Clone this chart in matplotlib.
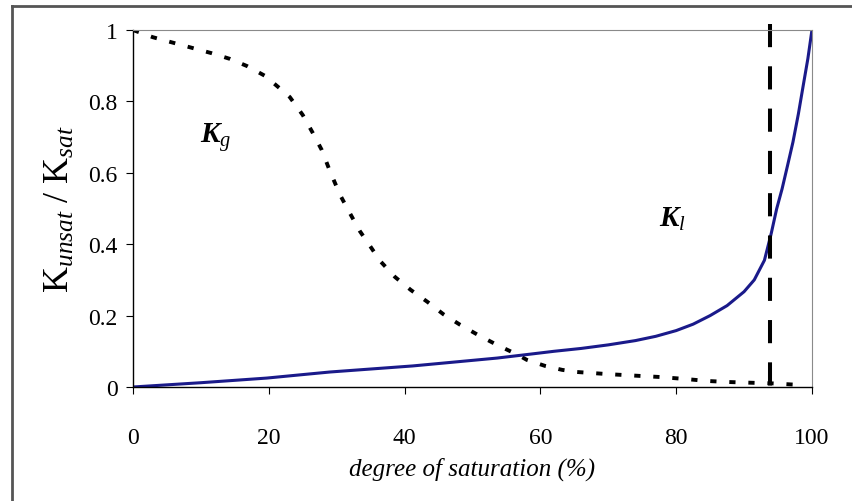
import matplotlib.pyplot as plt
from matplotlib.lines import Line2D

plt.rcParams['font.family'] = ['Liberation Serif', 'DejaVu Serif']
plt.rcParams['mathtext.fontset'] = 'custom'
plt.rcParams['mathtext.rm'] = 'Liberation Serif'
plt.rcParams['mathtext.it'] = 'Liberation Serif:italic'
plt.rcParams['mathtext.bf'] = 'Liberation Serif:italic:bold'

# gas relative permeability (dotted)
kg_x = [0, 2.9, 5.6, 8.7, 11.6, 14.3, 16.8, 19.4, 22.1, 23.1, 25.0, 26.5, 27.8, 29.0,
        30.5, 32.0, 33.4, 35.2, 36.4, 38.6, 40.9, 43.4, 45.7, 48.2, 50.8, 53.6, 56.7,
        58.0, 60.7, 63.2, 65.4, 70.0, 74.7, 77.6, 81.6, 84.5, 87.6, 90.9, 94.3, 98.0]
kg_y = [1.0, 0.98, 0.966, 0.95, 0.935, 0.919, 0.899, 0.872, 0.829, 0.812, 0.762, 0.711,
        0.664, 0.605, 0.538, 0.485, 0.437, 0.387, 0.353, 0.308, 0.272, 0.238, 0.204,
        0.174, 0.146, 0.118, 0.090, 0.076, 0.059, 0.048, 0.042, 0.036, 0.031, 0.028,
        0.022, 0.017, 0.014, 0.012, 0.010, 0.006]

# liquid relative permeability (solid blue)
kl_x = [0, 10, 19.7, 24.6, 29.0, 41.2, 53.6, 58.5, 62, 66, 70, 74, 77, 80, 82.5, 85,
        87.5, 90, 91.5, 93, 94, 94.8, 95.6, 96.4, 97.2, 98, 98.7, 99.4, 100]
kl_y = [0, 0.012, 0.025, 0.034, 0.042, 0.059, 0.081, 0.092, 0.100, 0.108, 0.118, 0.130,
        0.142, 0.158, 0.176, 0.200, 0.228, 0.267, 0.300, 0.355, 0.430, 0.499, 0.555,
        0.620, 0.686, 0.765, 0.843, 0.920, 1.0]

sat_limit = 93.8
limit_y = [1.017, 0]

x_ticks = [0, 20, 40, 60, 80, 100]
y_ticks = [0, 0.2, 0.4, 0.6, 0.8, 1]
y_ticklabels = ['0', '0.2', '0.4', '0.6', '0.8', '1']

fig = plt.figure(figsize=(8.52, 5.02), dpi=100)
ax = fig.add_axes([0.1561, 0.2271, 0.7969, 0.7111])

ax.plot(kg_x, kg_y, color='black', lw=2.8, dashes=(1.6, 3.3))
ax.plot(kl_x, kl_y, color='#1a1a8a', lw=2.2)
ax.plot([sat_limit, sat_limit], limit_y, color='black', lw=2.9, dashes=(5.75, 4.75),
        clip_on=False)

ax.set_xlim(0, 100)
ax.set_ylim(0, 1)
ax.set_xticks(x_ticks)
ax.set_yticks(y_ticks)
ax.set_yticklabels(y_ticklabels)
ax.tick_params(axis='both', labelsize=17, direction='out', length=5, width=0.8)
ax.tick_params(axis='x', pad=24)
ax.tick_params(axis='y', pad=6)

for s in ['top', 'right']:
    ax.spines[s].set_color('#8a8a8a')
    ax.spines[s].set_linewidth(0.8)
for s in ['left', 'bottom']:
    ax.spines[s].set_color('black')
    ax.spines[s].set_linewidth(1.0)

ax.set_xlabel('degree of saturation (%)', fontsize=18, style='italic', labelpad=6)
ax.set_ylabel(r'$\mathrm{K}_{unsat}\ /\ \mathrm{K}_{sat}$', fontsize=26, labelpad=8)

ax.text(9.9, 0.686, r'$\mathbf{K}_{g}$', fontsize=21, va='baseline')
ax.text(77.5, 0.451, r'$\mathbf{K}_{l}$', fontsize=21, va='baseline')

# outer frame of the original picture
fig.add_artist(Line2D([12 / 852, 12 / 852], [0, 1 - 6.5 / 502],
                      transform=fig.transFigure, color='#555555', lw=2))
fig.add_artist(Line2D([12 / 852, 1], [1 - 6.5 / 502, 1 - 6.5 / 502],
                      transform=fig.transFigure, color='#555555', lw=2))

fig.savefig('out.png', dpi=100)
